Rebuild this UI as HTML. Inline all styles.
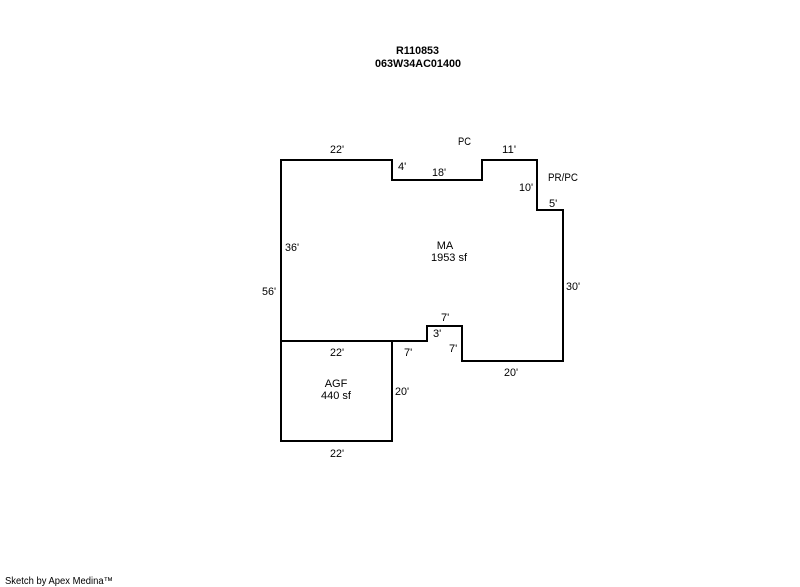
<!DOCTYPE html>
<html>
<head>
<meta charset="utf-8">
<style>
html,body{margin:0;padding:0;background:#fff;width:800px;height:587px;overflow:hidden}
svg{display:block}
text{font-family:"Liberation Sans",Arial,sans-serif;font-size:11px;fill:#000}
.b{font-weight:bold}
.c{text-anchor:middle}
</style>
</head>
<body>
<svg width="800" height="587" viewBox="0 0 800 587" xmlns="http://www.w3.org/2000/svg">
<g fill="none" stroke="#000" stroke-width="2" stroke-linecap="square" stroke-linejoin="miter" shape-rendering="crispEdges">
<path d="M281 160H392V180H482V160H537V210H563V361H462V326H427V341H281Z"/>
<path d="M281 341V441H392V341"/>
</g>
<text class="b" x="396" y="54" textLength="43" lengthAdjust="spacingAndGlyphs">R110853</text>
<text class="b" x="375" y="67" textLength="86" lengthAdjust="spacingAndGlyphs">063W34AC01400</text>
<text x="330" y="153" textLength="14" lengthAdjust="spacingAndGlyphs">22'</text>
<text x="458" y="145" textLength="13" lengthAdjust="spacingAndGlyphs">PC</text>
<text x="502" y="153" textLength="14" lengthAdjust="spacingAndGlyphs">11'</text>
<text x="398" y="170">4'</text>
<text x="432" y="176" textLength="14" lengthAdjust="spacingAndGlyphs">18'</text>
<text x="548" y="181" textLength="30" lengthAdjust="spacingAndGlyphs">PR/PC</text>
<text x="519" y="191" textLength="14" lengthAdjust="spacingAndGlyphs">10'</text>
<text x="549" y="207">5'</text>
<text x="285" y="251" textLength="14" lengthAdjust="spacingAndGlyphs">36'</text>
<text class="c" x="445" y="249">MA</text>
<text class="c" x="449" y="261">1953 sf</text>
<text x="262" y="295" textLength="14" lengthAdjust="spacingAndGlyphs">56'</text>
<text x="566" y="290" textLength="14" lengthAdjust="spacingAndGlyphs">30'</text>
<text x="441" y="321">7'</text>
<text x="433" y="337">3'</text>
<text x="449" y="352">7'</text>
<text x="330" y="356" textLength="14" lengthAdjust="spacingAndGlyphs">22'</text>
<text x="404" y="356">7'</text>
<text x="504" y="376" textLength="14" lengthAdjust="spacingAndGlyphs">20'</text>
<text class="c" x="336" y="387">AGF</text>
<text class="c" x="336" y="399">440 sf</text>
<text x="395" y="395" textLength="14" lengthAdjust="spacingAndGlyphs">20'</text>
<text x="330" y="457" textLength="14" lengthAdjust="spacingAndGlyphs">22'</text>
<text x="5" y="584" style="font-size:10px" textLength="108" lengthAdjust="spacingAndGlyphs">Sketch by Apex Medina™</text>
</svg>
</body>
</html>
